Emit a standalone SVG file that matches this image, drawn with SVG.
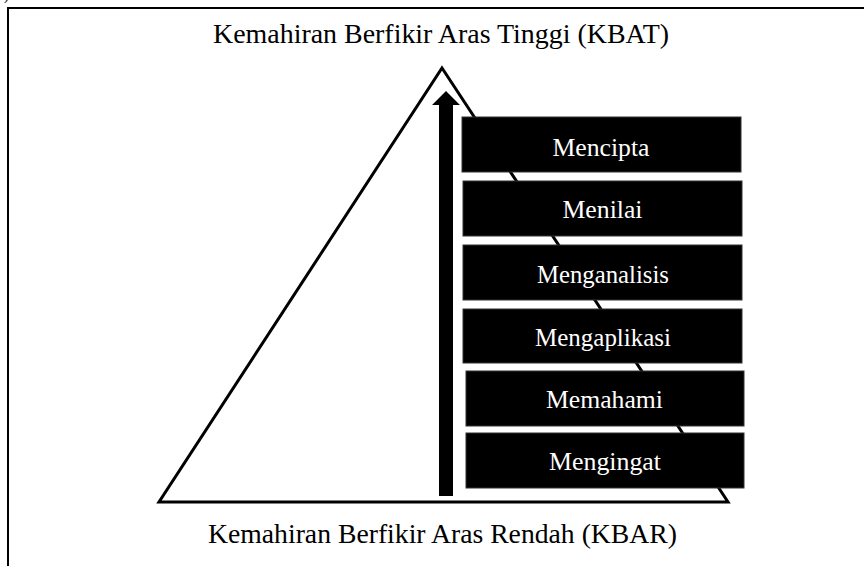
<svg xmlns="http://www.w3.org/2000/svg" width="864" height="566" viewBox="0 0 864 566">
  <style>
    .t { font-family: "Liberation Serif", "Times New Roman", serif; fill: #000; }
    .lbl { font-family: "Liberation Serif", "Times New Roman", serif; fill: #fff; font-size: 26px; text-anchor: middle; }
    .box { fill: #000; stroke: #333; stroke-width: 1; }
  </style>
  <rect x="0" y="0" width="864" height="566" fill="#fff"/>
  <text class="t" x="4" y="0" font-size="14">)</text>
  <rect x="8" y="8" width="870" height="570" fill="none" stroke="#000" stroke-width="2"/>
  <text class="t" x="441" y="43" font-size="27" text-anchor="middle" textLength="456" lengthAdjust="spacingAndGlyphs">Kemahiran Berfikir Aras Tinggi (KBAT)</text>
  <text class="t" x="442.5" y="543" font-size="27" text-anchor="middle" textLength="469" lengthAdjust="spacingAndGlyphs">Kemahiran Berfikir Aras Rendah (KBAR)</text>
  <g id="pyramid">
    <polygon points="442,68 728,502 159,502" fill="#fff" stroke="#000" stroke-width="3" stroke-linejoin="miter"/>
  </g>
  <g id="connectors">
    <polygon points="446,91 460,105 453,105 453,496 439,496 439,105 432,105" fill="#000"/>
  </g>
  <g id="mencipta">
    <rect class="box" x="462" y="117" width="279" height="55"/>
    <text class="lbl" x="601" y="156" textLength="97" lengthAdjust="spacingAndGlyphs">Mencipta</text>
  </g>
  <g id="menilai">
    <rect class="box" x="463" y="181" width="279" height="55"/>
    <text class="lbl" x="602.5" y="218" textLength="80" lengthAdjust="spacingAndGlyphs">Menilai</text>
  </g>
  <g id="menganalisis">
    <rect class="box" x="463" y="245" width="279" height="55"/>
    <text class="lbl" x="603" y="283" textLength="132" lengthAdjust="spacingAndGlyphs">Menganalisis</text>
  </g>
  <g id="mengaplikasi">
    <rect class="box" x="463" y="309" width="279" height="54"/>
    <text class="lbl" x="603" y="346" textLength="136" lengthAdjust="spacingAndGlyphs">Mengaplikasi</text>
  </g>
  <g id="memahami">
    <rect class="box" x="466" y="371" width="278" height="55"/>
    <text class="lbl" x="604.5" y="408" textLength="117" lengthAdjust="spacingAndGlyphs">Memahami</text>
  </g>
  <g id="mengingat">
    <rect class="box" x="466" y="433" width="278" height="55"/>
    <text class="lbl" x="605" y="470" textLength="112" lengthAdjust="spacingAndGlyphs">Mengingat</text>
  </g>
</svg>
